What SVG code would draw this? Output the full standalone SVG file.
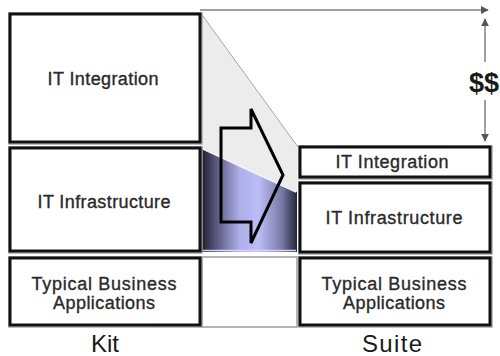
<svg xmlns="http://www.w3.org/2000/svg" width="500" height="356" viewBox="0 0 500 356">
  <style>
    .box { fill: #ffffff; stroke: #111111; stroke-width: 3; }
    .shade { fill: none; stroke: #a8a8a8; stroke-width: 1.5; }
    .lbl { font-family: "Liberation Sans", Arial, sans-serif; font-size: 18px; fill: #2a2a2a; stroke: #2a2a2a; stroke-width: 0.35; text-anchor: middle; }
    .cap { font-family: "Liberation Sans", Arial, sans-serif; font-size: 24px; fill: #1a1a1a; text-anchor: middle; }
    .dim { stroke: #a0a0a0; stroke-width: 2; fill: none; }
  </style>
  <defs>
    <linearGradient id="cylinder" x1="0" y1="0" x2="1" y2="0">
      <stop offset="0" stop-color="#1a1a28"/>
      <stop offset="0.12" stop-color="#4a4a6c"/>
      <stop offset="0.4" stop-color="#aeaee8"/>
      <stop offset="0.6" stop-color="#bdbdf6"/>
      <stop offset="0.84" stop-color="#7a7aa8"/>
      <stop offset="1" stop-color="#262636"/>
    </linearGradient>
    <marker id="tip" viewBox="0 0 10 10" refX="9" refY="5" markerWidth="4" markerHeight="4" orient="auto-start-reverse">
      <path d="M0,0 L10,5 L0,10 z" fill="#555555"/>
    </marker>
  </defs>

  <rect width="500" height="356" fill="#ffffff"/>

  <!-- shaded wedge between the two stacks -->
  <polygon points="200,12 298,147 297,192 200,148" fill="#ececec"/>
  <line x1="200" y1="12" x2="298" y2="147" stroke="#a6a6a6" stroke-width="1"/>
  <polygon points="201,148 297,192 297,252 201,252" fill="url(#cylinder)"/>
  <line x1="203" y1="149" x2="296" y2="192" stroke="#f4f4ff" stroke-width="1.5"/>
  <line x1="203" y1="250.5" x2="296" y2="250.5" stroke="#d4d4fa" stroke-width="1.5"/>

  <!-- empty slot under the cylinder -->
  <rect x="202" y="257" width="95" height="70" fill="#ffffff" stroke="#b4b4b4" stroke-width="2"/>

  <!-- Kit stack -->
  <g id="kit-integration">
    <rect class="shade" x="9" y="13" width="193" height="131"/>
    <rect class="box" x="10" y="14" width="190" height="128"/>
    <text class="lbl" x="103" y="85" textLength="111" lengthAdjust="spacing">IT Integration</text>
  </g>
  <g id="kit-infrastructure">
    <rect class="shade" x="9" y="147" width="193" height="106"/>
    <rect class="box" x="10" y="148" width="190" height="103"/>
    <text class="lbl" x="104" y="208" textLength="133" lengthAdjust="spacing">IT Infrastructure</text>
  </g>
  <g id="kit-apps">
    <rect class="shade" x="9" y="257" width="193" height="70"/>
    <rect class="box" x="10" y="258" width="190" height="67"/>
    <text class="lbl" x="104" y="290" textLength="145" lengthAdjust="spacing">Typical Business</text>
    <text class="lbl" x="104" y="309" textLength="102" lengthAdjust="spacing">Applications</text>
  </g>

  <!-- Suite stack -->
  <g id="suite-integration">
    <rect class="shade" x="299" y="146" width="193" height="33"/>
    <rect class="box" x="300" y="147" width="190" height="30"/>
    <text class="lbl" x="392" y="168" textLength="113" lengthAdjust="spacing">IT Integration</text>
  </g>
  <g id="suite-infrastructure">
    <rect class="shade" x="299" y="182" width="193" height="72"/>
    <rect class="box" x="300" y="183" width="190" height="69"/>
    <text class="lbl" x="394" y="224" textLength="137" lengthAdjust="spacing">IT Infrastructure</text>
  </g>
  <g id="suite-apps">
    <rect class="shade" x="299" y="257" width="193" height="70"/>
    <rect class="box" x="300" y="258" width="190" height="67"/>
    <text class="lbl" x="394" y="290" textLength="145" lengthAdjust="spacing">Typical Business</text>
    <text class="lbl" x="394" y="309" textLength="102" lengthAdjust="spacing">Applications</text>
  </g>

  <!-- column captions -->
  <g id="captions">
    <text class="cap" x="105" y="352">Kit</text>
    <text class="cap" x="392" y="352" textLength="60" lengthAdjust="spacing">Suite</text>
  </g>

  <!-- transition arrow -->
  <g id="shift-arrow">
    <polygon points="221,128 251,128 251,109 283,175 251,243 251,222 221,222" fill="none" stroke="#000000" stroke-width="3" stroke-linejoin="miter"/>
  </g>

  <!-- cost dimension -->
  <g id="connectors">
    <line class="dim" x1="200" y1="10" x2="488" y2="10" marker-end="url(#tip)"/>
    <line class="dim" x1="485" y1="62" x2="485" y2="19" marker-end="url(#tip)"/>
    <line class="dim" x1="485" y1="100" x2="485" y2="141" marker-end="url(#tip)"/>
  </g>
  <g id="cost-label">
    <text x="484" y="92" font-family="Liberation Sans, Arial, sans-serif" font-size="27" font-weight="bold" fill="#1a1a1a" text-anchor="middle">$$</text>
  </g>
</svg>
